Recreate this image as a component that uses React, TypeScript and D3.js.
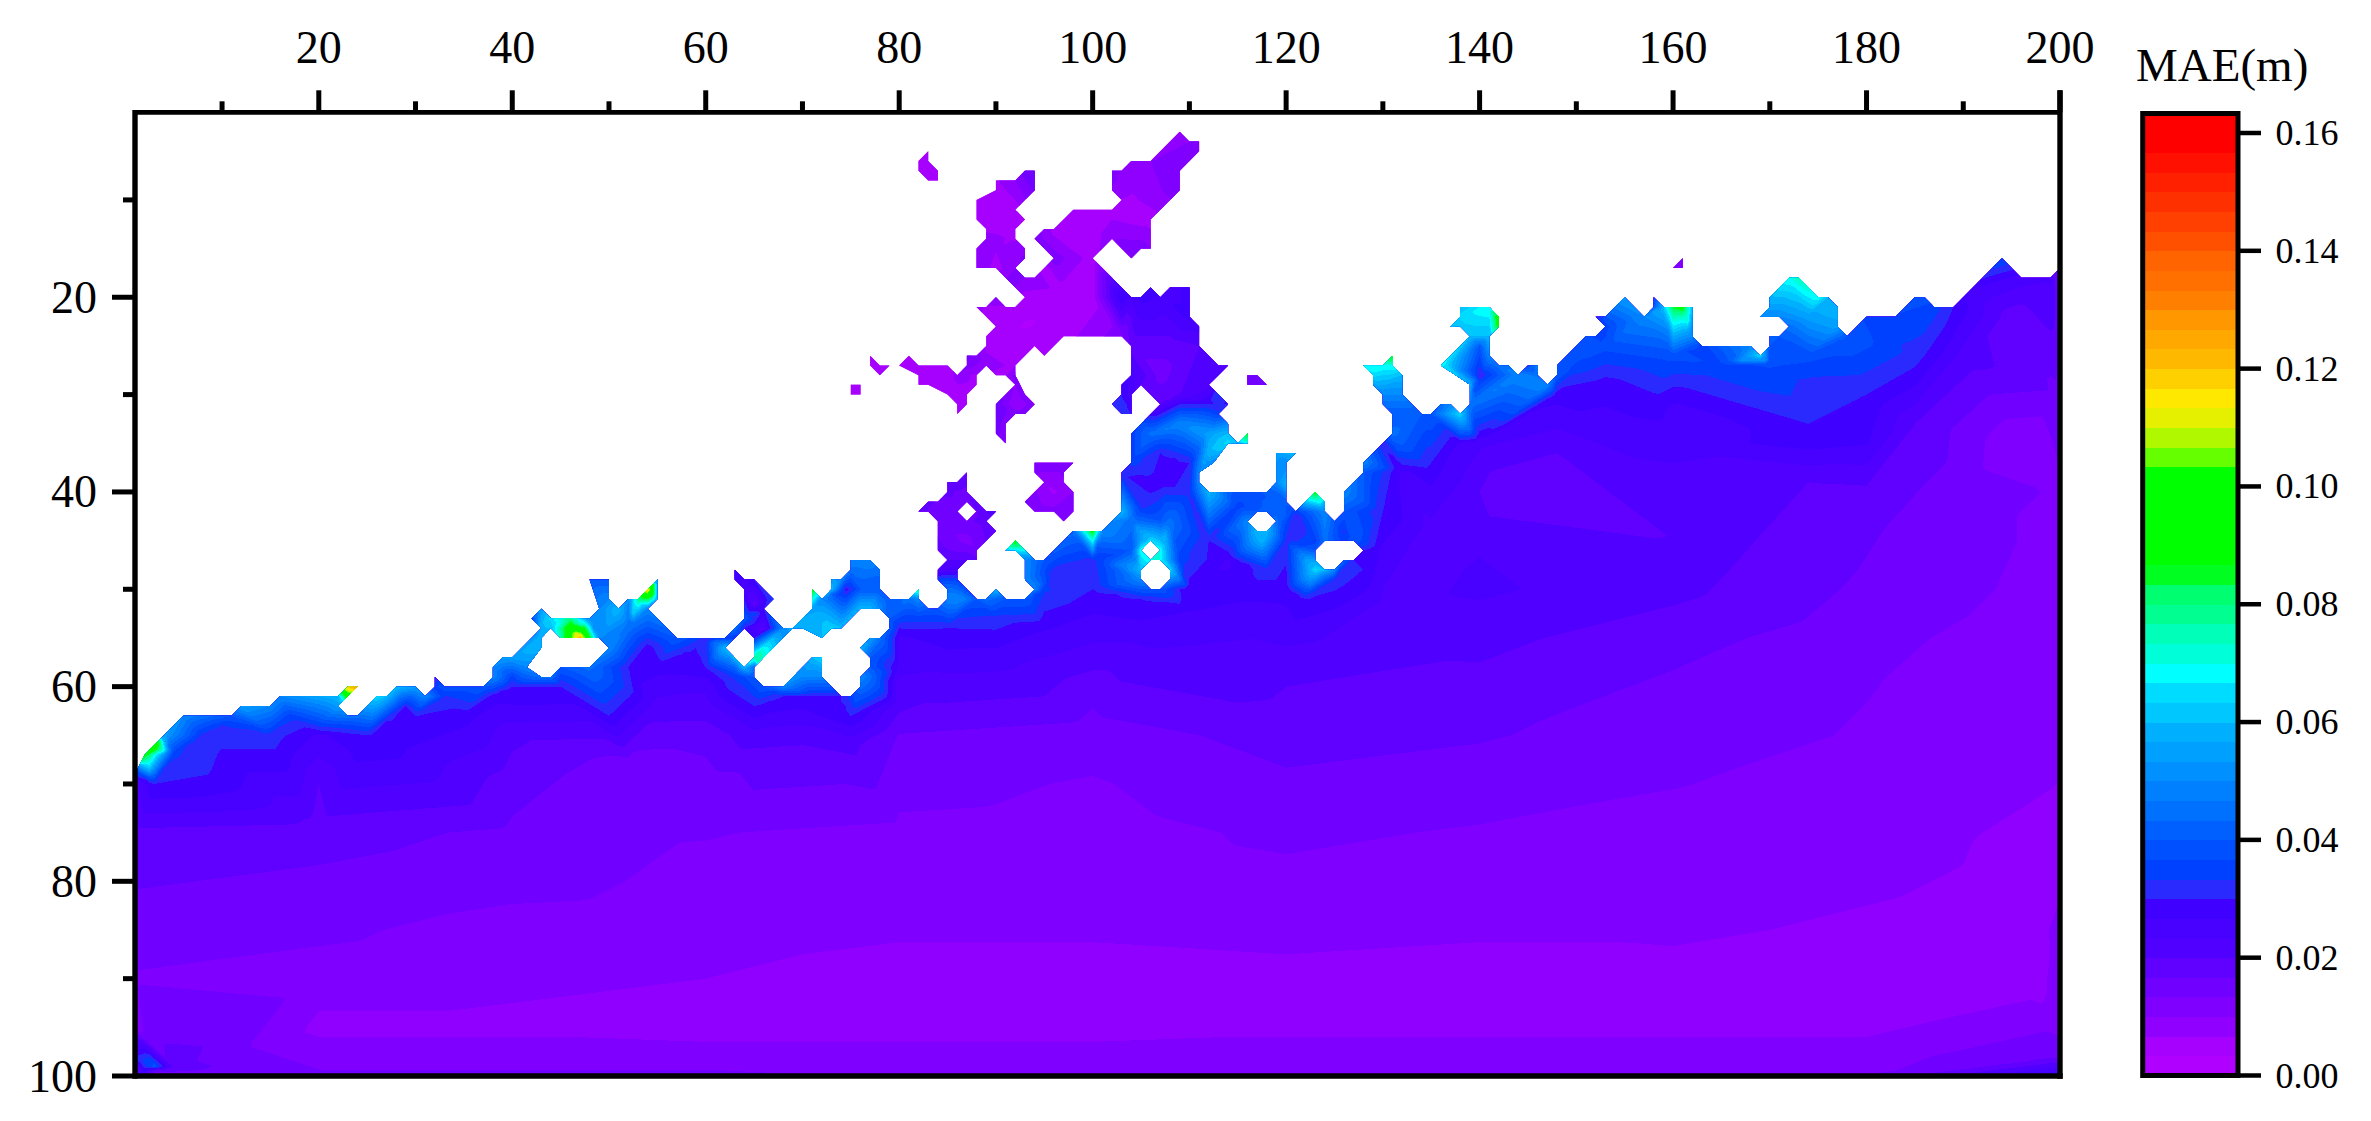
import React from "react";
import * as d3 from "d3";

type P = number[];

const xTicks = [10,20,30,40,50,60,70,80,90,100,110,120,130,140,150,160,170,180,190,200];
const yTicks = [10,20,30,40,50,60,70,80,90,100];
const legendTicks = [0,0.02,0.04,0.06,0.08,0.1,0.12,0.14,0.16];
const bandColors = ["#b000ff","#a600ff","#9000ff","#8000ff","#7000ff","#6000ff","#5000ff","#4800ff","#4000ff","#2a2aff","#0040ff","#0050ff","#0060ff","#0070ff","#0080ff","#0090ff","#00a0ff","#00b0ff","#00c8ff","#00dcff","#00ffff","#00ffd8","#00ffb8","#00ff90","#00ff70","#00ff20","#00ff00","#00ff00","#00ff00","#00ff00","#00ff00","#66ff00","#b0f800","#e4f000","#ffe800","#ffd000","#ffb800","#ffa800","#ff9800","#ff8000","#ff7000","#ff6400","#ff5000","#ff4000","#ff3000","#ff2000","#ff1000","#ff0000","#ff0000"];
const bandStep = 0.16 / 48;

// coast: [x, y, MAE]
const seaOutline: P[] = [
[1,69,.03],[2,67,.09],[4,65,.055],[6,63,.05],[11,63,.04],[12,62,.055],[15,62,.05],[16,61,.05],[22,61,.06],[23,60,.12],[24,60,.13],[22,62,.055],[23,63,.045],[24,63,.045],[26,61,.065],[27,61,.06],[28,60,.06],[30,60,.055],[31,61,.05],[32,60,.035],[32,59,.03],[33,60,.04],[37,60,.04],[38,59,.05],[38,58,.05],[39,57,.055],[40,57,.055],[43,54,.06],[42,53,.035],[43,52,.055],[44,53,.065],[48,53,.05],[49,52,.05],[48,49,.04],[50,49,.04],[50,51,.05],[51,52,.06],[52,51,.05],[53,51,.08],[55,49,.06],[55,51,.06],[54,52,.05],[57,55,.04],
[62,55,.035],[63,54,.045],[64,53,.04],[64,50,.025],[63,49,.03],[63,48,.03],[64,49,.025],[65,49,.03],[67,51,.035],[66,52,.03],[68,54,.05],[69,54,.06],[71,52,.055],[71,50,.09],[72,51,.05],[73,50,.06],[73,49,.055],[74,49,.05],[75,48,.045],[75,47,.05],[77,47,.05],[78,48,.045],[78,50,.04],[79,51,.04],[81,51,.045],[82,50,.08],[82,51,.05],[83,52,.04],[84,52,.04],[85,51,.05],[85,50,.05],[84,49,.035],[84,48,.022],[85,47,.02],[84,46,.018],[84,43,.015],[83,42,.016],[82,42,.02],[83,41,.018],[84,41,.016],[85,40,.017],[85,39,.018],[86,39,.018],[87,38,.018],[87,40,.016],[89,42,.02],[90,42,.022],[89,43,.018],[90,44,.02],[88,46,.014],[88,47,.018],[87,47,.02],[86,48,.025],[86,49,.035],[88,51,.04],[89,51,.045],[90,50,.06],[91,51,.04],[93,51,.04],[94,50,.05],[93,49,.05],[93,47,.05],[92,46,.065],[91,46,.065],[92,45,.095],[94,47,.045],[95,47,.04],[98,44,.045],[100,44,.09],[101,44,.05],[102,43,.05],[103,42,.06],[103,38,.03],[104,37,.035],[104,34,.035],
[107,31,.02],[105,29,.02],[104,30,.025],[104,32,.03],[103,32,.032],[102,31,.03],[103,30,.03],[103,29,.03],[104,28,.025],[104,25,.018],[103,24,.012],[97,24,.005],[95,26,.005],[94,25,.006],[92,27,.006],[92,28,.012],[93,30,.012],[94,31,.012],[93,32,.012],[92,32,.012],[91,33,.012],[91,35,.012],[90,34,.014],[90,31,.016],[92,29,.01],[91,28,.006],[90,28,.006],[89,27,.008],[88,28,.006],[88,29,.006],[87,30,.005],[87,31,.005],[86,32,.005],[86,31,.005],[85,30,.005],[83,29,.005],[82,29,.005],[82,28,.005],[80,27,.005],[81,26,.006],[82,27,.005],[85,27,.005],[86,28,.008],[87,27,.012],[87,26,.015],[88,26,.012],[89,25,.006],[89,24,.005],[90,23,.005],[88,21,.008],[89,21,.006],[90,20,.012],[91,21,.006],[92,21,.005],[93,20,.005],[90,17,.005],[88,17,.01],[88,15,.008],[89,14,.008],[89,13,.006],[88,12,.006],[88,10,.006],[90,9,.005],[90,8,.006],[92,8,.01],[93,7,.015],[94,7,.014],[94,9,.014],[92,11,.005],[93,12,.005],[92,13,.005],[92,14,.006],[93,15,.01],[93,16,.01],[92,17,.01],[93,18,.01],[94,18,.01],[96,16,.012],[94,14,.012],[95,13,.01],[96,13,.005],[98,11,.004],[102,11,.005],[103,10,.006],[102,9,.01],[102,7,.01],[103,7,.01],[104,6,.01],[106,6,.01],[109,3,.007],[110,4,.01],[111,4,.012],[111,5,.012],[109,7,.012],[109,9,.012],[106,12,.005],[106,15,.01],[105,15,.012],[104,16,.012],[102,14,.01],[100,16,.005],[104,20,.025],[105,20,.028],[106,19,.028],[107,20,.026],[108,19,.025],[110,19,.028],[110,22,.028],[111,23,.025],[111,25,.02],[113,27,.02],[114,27,.022],[112,29,.022],[113,30,.035],[114,31,.03],[113,32,.035],[114,33,.05],[114,34,.06],[115,35,.06],[116,34,.09],[116,35,.07],[114,35,.065],[112.5,37,.05],[111,38,.05],[111,39,.05],[112,40,.06],[118,40,.04],[119,39,.05],[119,36,.055],[121,36,.06],[120,37,.05],[120,41,.04],[121,42,.035],[123,40,.09],[124,41,.06],[124,42,.05],[125,43,.04],[126,42,.04],[126,40,.05],[128,38,.04],[128,37,.05],
[131,34,.045],[131,32,.04],[130,31,.045],[130,30,.05],[129,29,.055],[129,28,.065],[128,27,.07],[130,27,.07],[131,26,.09],[131,27,.07],[132,28,.06],[132,30,.05],[134,32,.04],[135,32,.04],[136,31,.045],[137,31,.05],[138,32,.065],[139,31,.045],[139,29,.06],[136,27,.07],[139,24,.06],[138,23,.06],[137,23,.06],[138,22,.065],[138,21,.06],[141,21,.07],[142,22,.095],[142,23,.09],[141,24,.06],[141,26,.05],[142,27,.045],[143,27,.045],[144,28,.05],[145,27,.035],[146,27,.05],[146,28,.045],[147,29,.05],[148,28,.04],[148,27,.04],[151,24,.04],[152,24,.035],[153,23,.035],[152,22,.03],[153,22,.04],[155,20,.055],[157,22,.05],[158,21,.04],[158,20,.035],[159,21,.06],[160,21,.085],[161,21,.09],[162,21,.06],[162,24,.05],[163,25,.035],[168,25,.05],[169,26,.065],[170,25,.04],[170,24,.04],[171,24,.04],[172,23,.045],[171,22,.05],[169,22,.05],[170,21,.055],[170,20,.06],[172,18,.07],[173,18,.075],[175,20,.07],[176,20,.06],[177,21,.06],[177,23,.055],[178,24,.04],[180,22,.036],[183,22,.036],[185,20,.04],[186,20,.04],[187,21,.035],[189,21,.03],[190,20,.027],[191,19,.027],[194,16,.037],[196,18,.025],[199,18,.024],[200,17,.015],
[200,100,.03],[1,100,.03]];

const islands: P[][] = [
[[94,37,.012],[98,37,.012],[97,38,.01],[97,39,.01],[98,40,.01],[98,42,.012],[97,43,.012],[96,42,.011],[94,42,.012],[93,41,.014],[95,39,.007],[94,38,.01]],
[[116,28,.016],[117,28,.016],[118,29,.016],[116,29,.016]],
[[83,5,.004],[82,6,.004],[82,7,.004],[83,8,.004],[84,8,.004],[84,7,.004],[83,6,.004]],
[[77,26,.005],[78,27,.005],[79,27,.005],[78,28,.005],[77,27,.005]],
[[75,29,.004],[76,29,.004],[76,30,.004],[75,30,.004]],
[[161,16,.012],[160,17,.012],[161,17,.012]],
];

const holes: P[][] = [
[[44,54,.06],[45,55,.075],[49,55,.05],[50,56,.05],[48,58,.045],[45,58,.04],[44,59,.045],[43,59,.045],[41.5,58,.05],[43,56,.06],[43,55,.06]],
[[62,56,.06],[64,54,.03],[65,55,.03],[65,57,.08],[64,58,.06]],
[[65,58,.045],[69,54,.05],[70,54,.06],[72,55,.06],[73,54,.065],[74,54,.06],[76,52,.06],[78,52,.05],[79,53,.04],[79,54,.04],[78,55,.045],[77,55,.055],[76,56,.06],[77,57,.04],[77,58,.04],[76,59,.05],[76,60,.045],[75,61,.035],[74,61,.03],[72,59,.05],[72,57,.065],[71,57,.06],[68,60,.05],[66,60,.04],[65,59,.04]],
[[86,42,.016],[87,41,.016],[88,42,.016],[87,43,.016]],
[[105,48,.06],[106,47,.07],[107,47,.07],[108,48,.065],[108,49,.05],[107,50,.04],[106,50,.04],[105,49,.05]],
[[105,46,.07],[106,45,.065],[107,46,.07],[106,47,.07]],
[[116,43,.05],[117,42,.04],[118,42,.04],[119,43,.045],[118,44,.06],[117,44,.06]],
[[123,46,.04],[124,45,.045],[127,45,.04],[128,46,.03],[127,47,.03],[126,47,.04],[125,48,.05],[124,48,.06],[123,47,.055]],
];

// offshore readings on a coarse lattice, null on land
const latticeX = [1,20,40,60,80,100,120,140,160,180,200];
const lattice100 = [.016,.014,.014,.014,.013,.013,.013,.013,.013,.013,.03];
const lattice98 = [.02,.012,.012,.012,.012,.012,.012,.012,.012,.012,.016];
const lattice95 = [.012,.009,.009,.008,.008,.008,.009,.009,.009,.009,.012];
const lattice90 = [.013,.012,.011,.010,.0085,.0085,.009,.0085,.009,.009,.012];
const lattice85 = [.015,.014,.012,.0115,.0105,.0105,.011,.0105,.0105,.0095,.011];
const lattice80 = [.017,.016,.0145,.0125,.0115,.0115,.0125,.0115,.0115,.0105,.0095];
const lattice75 = [.019,.018,.016,.0135,.0125,.012,.014,.013,.012,.0115,.0095];
const lattice70 = [.022,.02,.018,.015,.0145,.013,.016,.015,.0135,.012,.010];
const lattice65 = [null,.026,.021,.018,.0165,.015,.018,.017,.015,.013,.010];
const lattice60 = [null,null,.03,.024,.02,.018,.02,.019,.016,.0135,.011];
const lattice55 = [null,null,null,.032,.026,.024,.024,.021,.018,.0145,.011];
const lattice50 = [null,null,null,null,null,.03,.028,.024,.021,.016,.012];
const lattice45 = [null,null,null,null,null,null,.032,.023,.020,.017,.012];
const lattice40 = [null,null,null,null,null,null,null,.02,.021,.019,.013];
const lattice35 = [null,null,null,null,null,null,null,.024,.025,.027,.014];
const lattice30 = [null,null,null,null,null,null,null,null,.028,.03,.016];
const latticeRows: [number,(number|null)[]][] = [[100,lattice100],[98,lattice98],[95,lattice95],[90,lattice90],[85,lattice85],[80,lattice80],[75,lattice75],[70,lattice70],[65,lattice65],[60,lattice60],[55,lattice55],[50,lattice50],[45,lattice45],[40,lattice40],[35,lattice35],[30,lattice30]];

// spot readings close to the coast and in the bays
const spots: P[] = [
[3,66,.105],[3,70,.03],[5,67,.034],[8,65,.032],[10,64,.033],[15,65,.032],[17,63,.035],[20,64,.034],[23,64,.036],[25,65,.03],[29,62,.03],[30,63,.03],[33,61,.033],[35,63,.028],[38,61,.028],[40,59,.035],[45,60,.03],[47,55,.125],[46,53,.08],[46,54,.095],[52,54,.045],[54,50,.12],[54,56,.028],[52,58,.03],[52,68,.015],
[59,56,.03],[63.5,59,.035],[65,51.5,.018],[66,54,.02],[68,61,.03],[71,61,.03],[70,59,.05],[72,53,.06],[74.5,50,.028],[77,52,.06],[76,50,.04],[77,54,.03],[77,59,.045],[76,56,.055],[82,53,.035],[85,50,.045],[86.5,51,.05],[87,45,.012],[87,48,.025],
[96,48.5,.03],[100,47,.032],[105,41.5,.032],[107,39,.028],[107,43,.04],[110,40,.032],[105,45,.055],[112,45,.03],[114,47,.026],[115,41.5,.035],[117.5,45,.06],[121,42.5,.03],[123,45,.035],[123,48,.065],[96,40,.006],
[104,46,.04],[109,47,.035],[105,51,.03],[109,50,.03],[104,43,.045],[108,43,.045],
[100,20,.005],[97,20,.004],[95,17,.004],[92,24,.005],[100,13,.004],[104,10,.006],[91,12,.006],[90,15,.007],[103,20,.03],[108,25,.018],[107,28,.015],[109,30,.02],[112,31,.03],[109,33,.05],[106,34,.045],[112,34,.055],[107,36,.03],[110,37,.03],[112,36,.06],[92,31,.007],[85,28,.004],[93,23,.003],
[135,27,.055],[137,29,.04],[134,30,.035],[140,25,.04],[140,28,.03],[138,35,.026],[148,30,.028],[150,27,.036],[153,25,.038],[153,29,.028],[158,31,.028],[161,32,.025],[153,34,.025],[148,36,.02],[142,40,.017],[160,26,.038],[165,27,.036],[170,27,.037],[174,22,.055],[174,26,.038],[174,29,.032],[174,33,.03],[174,35,.028],[174,39,.02],[185,26,.032],[185,33,.02],[190,26,.022],[195,22,.018],[190,39,.015],[196,35,.01],[130,35,.03],[132,38,.026],[126,44,.032],[128,48,.03],[118,48,.032],[110,50,.028],
[55,58,.028],[55,62,.022],[60,58,.03],[60,62,.022],[65,62,.03],[65,65,.022],[70,63,.025],[70,66,.02],[75,63,.03],[75,66,.021],[80,54,.03],[80,58,.026],[80,62,.021],[85,54,.03],[85,58,.024],[90,53,.032],[90,57,.025],[95,50,.034],[95,54,.027],[100,53,.026],[105,55,.024],[110,52,.027],[115,50,.028],[115,54,.024],[122,51,.03],[125,49,.032],[125,53,.025],[130,42,.03],[130,46,.026],[130,52,.022],[135,38,.028],[135,44,.022],
[3,99,.04],[1,98,.03],[5,99,.018],[198,90,.009],[196,80,.0075],[196,85,.0075],[196,90,.0078],[190,85,.009],[190,75,.0105],[196,75,.009],
];

const W = 2371, H = 1121;
const xS = d3.scaleLinear().domain([1, 200]).range([135, 2060]);
const yS = d3.scaleLinear().domain([1, 100]).range([112.3, 1076]);
const vS = d3.scaleLinear().domain([0, 0.16]).range([1075.5, 133]);
const font = "'Liberation Serif', 'Times New Roman', serif";

function ring(pts: P[]) {
  return "M" + pts.map((p) => `${xS(p[0])},${yS(p[1])}`).join("L") + "Z";
}

function buildField() {
  const samples: P[] = [...seaOutline, ...islands.flat(), ...holes.flat(), ...spots];
  latticeRows.forEach(([y, row]) => row.forEach((v, i) => { if (v !== null) samples.push([latticeX[i], y, v]); }));
  const del = d3.Delaunay.from(samples, (d) => d[0], (d) => d[1]);
  const res = 2;
  const nx = 199 * res + 1, ny = 99 * res + 1;
  const values = new Float64Array(nx * ny).fill(NaN);
  const t = del.triangles;
  for (let k = 0; k < t.length; k += 3) {
    const a = samples[t[k]], b = samples[t[k + 1]], c = samples[t[k + 2]];
    const den = (b[1] - c[1]) * (a[0] - c[0]) + (c[0] - b[0]) * (a[1] - c[1]);
    if (Math.abs(den) < 1e-9) continue;
    const x0 = Math.max(0, Math.floor((Math.min(a[0], b[0], c[0]) - 1) * res));
    const x1 = Math.min(nx - 1, Math.ceil((Math.max(a[0], b[0], c[0]) - 1) * res));
    const y0 = Math.max(0, Math.floor((Math.min(a[1], b[1], c[1]) - 1) * res));
    const y1 = Math.min(ny - 1, Math.ceil((Math.max(a[1], b[1], c[1]) - 1) * res));
    for (let j = y0; j <= y1; j++) for (let i = x0; i <= x1; i++) {
      const gx = 1 + i / res, gy = 1 + j / res;
      const l1 = ((b[1] - c[1]) * (gx - c[0]) + (c[0] - b[0]) * (gy - c[1])) / den;
      const l2 = ((c[1] - a[1]) * (gx - c[0]) + (a[0] - c[0]) * (gy - c[1])) / den;
      const l3 = 1 - l1 - l2;
      if (l1 >= -1e-9 && l2 >= -1e-9 && l3 >= -1e-9) values[j * nx + i] = l1 * a[2] + l2 * b[2] + l3 * c[2];
    }
  }
  for (let j = 0; j < ny; j++) for (let i = 0; i < nx; i++) {
    if (Number.isNaN(values[j * nx + i])) values[j * nx + i] = samples[del.find(1 + i / res, 1 + j / res)][2];
  }
  const thresholds = bandColors.map((_, i) => i * bandStep);
  thresholds[0] = -1;
  const contours = d3.contours().size([nx, ny]).thresholds(thresholds)(values as any);
  const path = d3.geoPath(d3.geoTransform({
    point(x: number, y: number) {
      (this as any).stream.point(xS(1 + (x - 0.5) / res), yS(1 + (y - 0.5) / res));
    },
  }));
  return contours.map((c, i) => ({ d: path(c as any) || "", color: bandColors[i] }));
}

export default function App() {
  const bands = React.useMemo(buildField, []);
  const clip = ring(seaOutline) + islands.map(ring).join("") + holes.map(ring).join("");
  const black = "#000";
  return (
    <svg width={W} height={H} viewBox={`0 0 ${W} ${H}`} style={{ position: "absolute", left: 0, top: 0, background: "#fff" }}>
      <defs>
        <clipPath id="sea"><path d={clip} clipRule="evenodd" shapeRendering="crispEdges" /></clipPath>
      </defs>
      <g clipPath="url(#sea)">
        {bands.map((b, i) => <path key={i} d={b.d} fill={b.color} shapeRendering="crispEdges" />)}
      </g>
      <line x1={xS(1)} x2={xS(200)} y1={yS(1)} y2={yS(1)} stroke={black} strokeWidth={4.7} />
      <line x1={xS(1)} x2={xS(200) + 2.7} y1={yS(100)} y2={yS(100)} stroke={black} strokeWidth={5.6} />
      <line x1={xS(1)} x2={xS(1)} y1={yS(1) - 2.3} y2={yS(100) + 2.8} stroke={black} strokeWidth={5.4} />
      <line x1={xS(200)} x2={xS(200)} y1={yS(1) - 22} y2={yS(100) + 2.8} stroke={black} strokeWidth={5.4} />
      {xTicks.map((t) => {
        const major = t % 20 === 0;
        return (
          <g key={t}>
            <line x1={xS(t)} x2={xS(t)} y1={yS(1)} y2={yS(1) - (major ? 22 : 11)} stroke={black} strokeWidth={5} />
            {major && <text x={xS(t)} y={63} textAnchor="middle" fontFamily={font} fontSize={46}>{t}</text>}
          </g>
        );
      })}
      {yTicks.map((t) => {
        const major = t % 20 === 0;
        return (
          <g key={t}>
            <line x1={xS(1)} x2={xS(1) - (major ? 23 : 12)} y1={yS(t)} y2={yS(t)} stroke={black} strokeWidth={5} />
            {major && <text x={97} y={yS(t) + 15.5} textAnchor="end" fontFamily={font} fontSize={46}>{t}</text>}
          </g>
        );
      })}
      {bandColors.map((c, i) => (
        <rect key={c + i} x={2143} width={95} y={vS((i + 1) * bandStep)} height={vS(i * bandStep) - vS((i + 1) * bandStep) + 0.5} fill={c} shapeRendering="crispEdges" />
      ))}
      <rect x={2142.7} y={113.5} width={95.3} height={vS(0) - 113.5} fill="none" stroke={black} strokeWidth={5} />
      {legendTicks.map((t) => (
        <g key={t}>
          <line x1={2238} x2={2261} y1={vS(t)} y2={vS(t)} stroke={black} strokeWidth={4.5} />
          <text x={2275.5} y={vS(t) + 12} fontFamily={font} fontSize={36}>{t.toFixed(2)}</text>
        </g>
      ))}
      <text x={2136} y={81} fontFamily={font} fontSize={47}>MAE(m)</text>
    </svg>
  );
}
